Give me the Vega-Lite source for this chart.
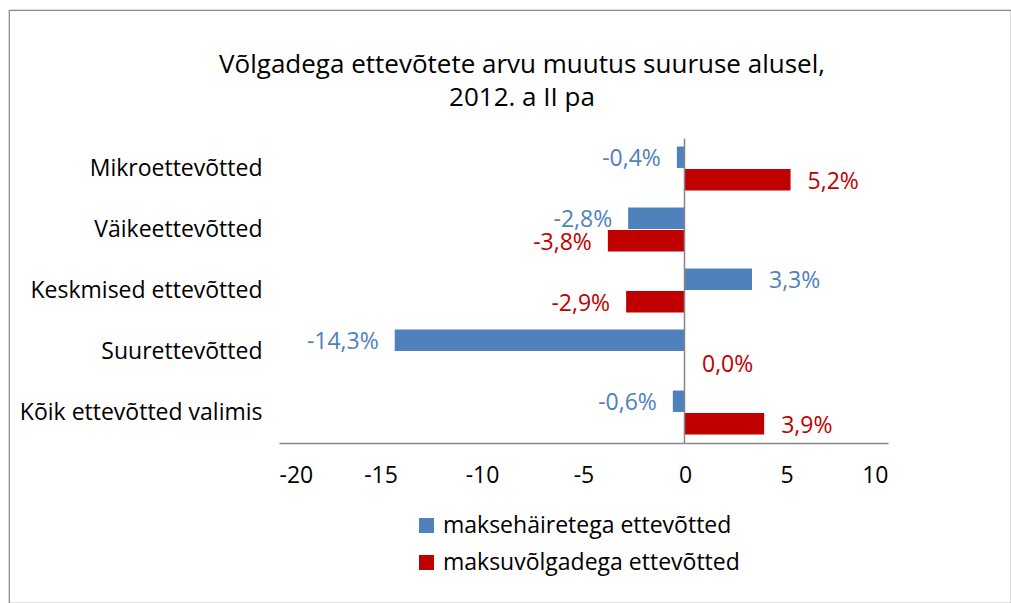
{
  "$schema": "https://vega.github.io/schema/vega-lite/v6.json",
  "autosize": {"type": "none"},
  "padding": {"left": 9, "top": 10, "right": 0, "bottom": 0},
  "width": 1002,
  "height": 593,
  "config": {
    "locale": {"number": {"decimal": ",", "thousands": " ", "grouping": [3], "currency": ["", " €"], "minus": "-"}},
    "view": {"stroke": "#868686", "strokeWidth": 1.2},
    "font": "Open Sans"
  },
  "title": {
    "text": ["Võlgadega ettevõtete arvu muutus suuruse alusel,", "2012. a II pa"],
    "font": "Open Sans", "fontSize": 26, "fontWeight": "normal", "color": "#000000",
    "anchor": "middle", "frame": "group", "baseline": "top", "offset": -44, "dy": 57, "dx": 12, "lineHeight": 33
  },
  "data": {
    "values": [
      {"kategooria": "Mikroettevõtted", "seeria": "maksehäiretega ettevõtted", "v": -0.4},
      {"kategooria": "Mikroettevõtted", "seeria": "maksuvõlgadega ettevõtted", "v": 5.2},
      {"kategooria": "Väikeettevõtted", "seeria": "maksehäiretega ettevõtted", "v": -2.8},
      {"kategooria": "Väikeettevõtted", "seeria": "maksuvõlgadega ettevõtted", "v": -3.8},
      {"kategooria": "Keskmised ettevõtted", "seeria": "maksehäiretega ettevõtted", "v": 3.3},
      {"kategooria": "Keskmised ettevõtted", "seeria": "maksuvõlgadega ettevõtted", "v": -2.9},
      {"kategooria": "Suurettevõtted", "seeria": "maksehäiretega ettevõtted", "v": -14.3},
      {"kategooria": "Suurettevõtted", "seeria": "maksuvõlgadega ettevõtted", "v": 0.0},
      {"kategooria": "Kõik ettevõtted valimis", "seeria": "maksehäiretega ettevõtted", "v": -0.6},
      {"kategooria": "Kõik ettevõtted valimis", "seeria": "maksuvõlgadega ettevõtted", "v": 3.9}
    ]
  },
  "transform": [{"calculate": "format(datum.v, '.1f') + '%'", "as": "silt"}],
  "layer": [
    {
      "mark": {"type": "bar"},
      "encoding": {
        "y": {
          "field": "kategooria", "type": "nominal",
          "sort": ["Mikroettevõtted", "Väikeettevõtted", "Keskmised ettevõtted", "Suurettevõtted", "Kõik ettevõtted valimis"],
          "scale": {"range": [128, 433], "paddingInner": 0.28, "paddingOuter": 0.14},
          "axis": {"orient": "left", "offset": -253, "title": null, "domain": false, "ticks": false, "tickSize": 0, "labelPadding": 0,
                   "labelFont": "Open Sans", "labelFontSize": 23, "labelColor": "#000000", "labelLimit": 400}
        },
        "yOffset": {"field": "seeria", "type": "nominal", "sort": ["maksehäiretega ettevõtted", "maksuvõlgadega ettevõtted"], "scale": {"paddingInner": 0.05}},
        "x": {
          "field": "v", "type": "quantitative",
          "scale": {"domain": [-20, 10], "range": [270, 879], "nice": false, "zero": false},
          "axis": {"orient": "bottom", "offset": -160, "title": null, "values": [-20, -15, -10, -5, 0, 5, 10], "grid": false,
                   "ticks": false, "tickSize": 0, "domainColor": "#868686", "domainWidth": 1.5, "labelPadding": 21,
                   "labelFont": "Open Sans", "labelFontSize": 23, "labelColor": "#000000", "format": "d"}
        },
        "color": {
          "field": "seeria", "type": "nominal",
          "scale": {"domain": ["maksehäiretega ettevõtted", "maksuvõlgadega ettevõtted"], "range": ["#4F81BD", "#C00000"]},
          "legend": {"orient": "none", "legendX": 406, "legendY": 504, "direction": "vertical", "title": null, "padding": 0,
                     "symbolType": "square", "symbolSize": 225, "symbolStrokeWidth": 0, "labelFont": "Open Sans", "labelFontSize": 23,
                     "labelColor": "#000000", "labelOffset": 5, "rowPadding": 13, "labelLimit": 400}
        }
      }
    },
    {
      "transform": [{"filter": "datum.v < 0"}],
      "mark": {"type": "text", "align": "right", "baseline": "middle", "dx": -16, "dy": 2, "fontSize": 23, "font": "Open Sans"},
      "encoding": {
        "y": {"field": "kategooria", "type": "nominal",
              "sort": ["Mikroettevõtted", "Väikeettevõtted", "Keskmised ettevõtted", "Suurettevõtted", "Kõik ettevõtted valimis"],
              "axis": {"orient": "right", "offset": -327, "title": null, "labels": false, "ticks": false, "tickSize": 0,
                       "domain": true, "domainColor": "#868686", "domainWidth": 1.5, "zindex": 1}},
        "yOffset": {"field": "seeria", "type": "nominal", "sort": ["maksehäiretega ettevõtted", "maksuvõlgadega ettevõtted"]},
        "x": {"field": "v", "type": "quantitative"},
        "text": {"field": "silt", "type": "nominal"},
        "color": {"field": "seeria", "type": "nominal", "legend": null}
      }
    },
    {
      "transform": [{"filter": "datum.v >= 0"}],
      "mark": {"type": "text", "align": "left", "baseline": "middle", "dx": 17, "dy": 2, "fontSize": 23, "font": "Open Sans"},
      "encoding": {
        "y": {"field": "kategooria", "type": "nominal",
              "sort": ["Mikroettevõtted", "Väikeettevõtted", "Keskmised ettevõtted", "Suurettevõtted", "Kõik ettevõtted valimis"],
              "axis": null},
        "yOffset": {"field": "seeria", "type": "nominal", "sort": ["maksehäiretega ettevõtted", "maksuvõlgadega ettevõtted"]},
        "x": {"field": "v", "type": "quantitative"},
        "text": {"field": "silt", "type": "nominal"},
        "color": {"field": "seeria", "type": "nominal", "legend": null}
      }
    }
  ],
  "resolve": {"axis": {"y": "independent"}}
}
